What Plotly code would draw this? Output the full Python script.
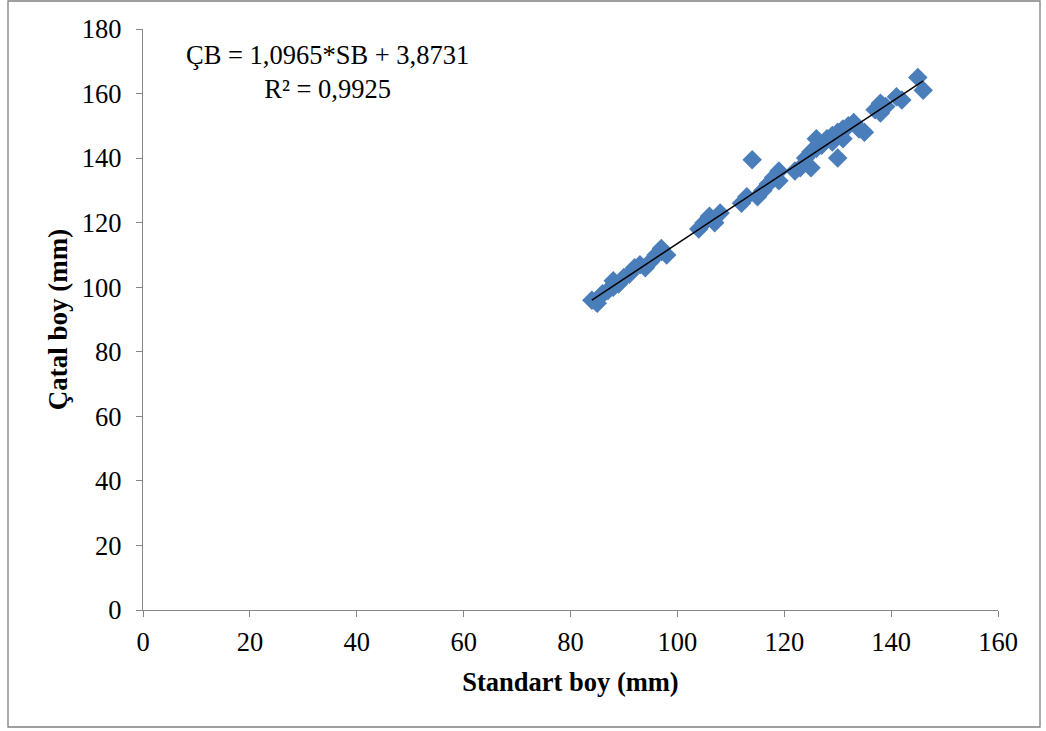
import plotly.graph_objects as go

# Data
standart_boy = [84, 85, 85.5, 86, 87, 88, 88, 89, 90, 91, 92, 93, 94, 95, 96, 97, 97, 98,
                104, 105, 106, 107, 108,
                112, 113, 114, 115, 116, 117, 118, 119, 119,
                122, 123, 124, 125, 125, 126, 126, 127, 128, 129, 129, 130, 130, 131, 131,
                132, 133, 134, 135,
                137, 138, 138, 139, 141, 142, 145, 146]
catal_boy = [96, 95, 97, 98, 99, 100, 102, 101, 103, 104, 106, 107, 106, 108, 110, 112, 111, 110,
             118, 120, 122, 120, 123,
             126, 128, 139.5, 128, 130, 132, 134, 136, 133,
             136, 137, 140, 142, 137, 143, 146, 144, 146, 147, 145, 148, 140, 149, 146,
             150, 151, 149, 148,
             155, 157, 154, 156, 159, 158, 165, 161]

slope = 1.0965
intercept = 3.8731
trend_x = [min(standart_boy), max(standart_boy)]
trend_y = [slope * v + intercept for v in trend_x]

x_ticks = [0, 20, 40, 60, 80, 100, 120, 140, 160]
y_ticks = [0, 20, 40, 60, 80, 100, 120, 140, 160, 180]

font_family = "Liberation Serif"

fig = go.Figure()
fig.add_trace(go.Scatter(
    x=standart_boy, y=catal_boy, mode="markers",
    marker=dict(symbol="diamond", size=15, color="#4A7EBB", line=dict(width=0)),
    showlegend=False))
fig.add_trace(go.Scatter(
    x=trend_x, y=trend_y, mode="lines",
    line=dict(color="black", width=1.5), showlegend=False))

L, R, T, B = 143, 48, 29, 121
W, H = 1046, 731
pw = W - L - R
ph = H - T - B

def px(xp):
    return (xp - L) / pw

def py(yp):
    return (H - B - yp) / ph

fig.update_layout(
    width=W, height=H,
    margin=dict(l=L, r=R, t=T, b=B),
    paper_bgcolor="white", plot_bgcolor="white",
    font=dict(family=font_family, size=26, color="black"),
    xaxis=dict(range=[0, 160], tickvals=x_ticks, showgrid=False, zeroline=False,
               showline=True, linecolor="#868686", linewidth=1.3,
               ticks="outside", ticklen=6, tickcolor="#868686",
               ticklabelstandoff=2,
               tickfont=dict(size=26.5, family=font_family, color="black"),
               title=dict(text="<b>Standart boy (mm)</b>",
                          font=dict(size=26.5, family=font_family, color="black"),
                          standoff=16)),
    yaxis=dict(range=[0, 180], tickvals=y_ticks, showgrid=False, zeroline=False,
               showline=True, linecolor="#868686", linewidth=1.3,
               ticks="outside", ticklen=6, tickcolor="#868686",
               ticklabelstandoff=9,
               tickfont=dict(size=26.5, family=font_family, color="black"),
               title=dict(text="<b>Çatal boy (mm)</b>",
                          font=dict(size=27, family=font_family, color="black"),
                          standoff=6)),
    annotations=[dict(
        text="ÇB = 1,0965*SB + 3,8731<br>R² = 0,9925",
        x=px(327), y=py(72), xref="paper", yref="paper",
        xanchor="center", yanchor="middle", align="center", showarrow=False,
        font=dict(size=26.5, family=font_family, color="black"))],
    shapes=[dict(type="rect", xref="paper", yref="paper",
                 x0=px(8), x1=px(1040), y0=py(727), y1=py(1),
                 line=dict(color="#7F7F7F", width=1.3), fillcolor="rgba(0,0,0,0)")],
)

fig.write_html("out.html")
